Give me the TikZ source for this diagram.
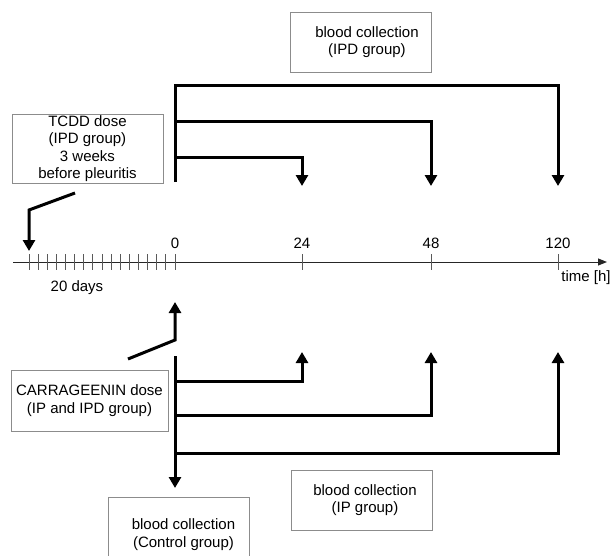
\documentclass[tikz,border=0pt]{standalone}
\usepackage{fontspec}
\setmainfont{Liberation Sans}
\usetikzlibrary{arrows.meta}
\begin{document}
\begin{tikzpicture}[x=1pt,y=-1pt,
  txt/.style={font=\fontsize{15}{17.5}\selectfont, inner sep=0pt},
  box/.style={txt, draw=black!45, line width=0.8pt, align=center},
  conn/.style={line width=3pt, line join=miter},
  arr/.style={conn, -{Triangle[width=12pt,length=11pt]}},
  axis/.style={line width=1pt, draw=black!85},
  tick/.style={line width=1pt, draw=black!65}]
\useasboundingbox (0,0) rectangle (611,555);
\clip (0,0) rectangle (611,555);
\renewcommand{\arraystretch}{1}

% boxes
\node[box, minimum width=151pt, minimum height=69pt] (tcdd) at (87.5,148.5)
  {TCDD dose\\(IPD group)\\3 weeks\\before pleuritis};
\node[box, minimum width=141pt, minimum height=60pt] (ipd) at (361,42)
  {\hspace*{12pt}blood collection\\\hspace*{12pt}(IPD group)};
\node[box, minimum width=157pt, minimum height=61pt] (carr) at (89.5,400.5)
  {CARRAGEENIN dose\\(IP and IPD group)};
\node[box, minimum width=141pt, minimum height=60pt] (ip) at (361.5,500)
  {\hspace*{7pt}blood collection\\\hspace*{7pt}(IP group)};
\node[box, minimum width=141pt, minimum height=76pt] (ctrl) at (178.5,535)
  {\raisebox{11pt}{\begin{tabular}{@{}c@{}}\hspace*{10pt}blood collection\\\hspace*{10pt}(Control group)\end{tabular}}};

% time axis
\coordinate (axstart) at (13,262);
\coordinate (axend) at (607,262);
\draw[axis, -{Triangle[width=7pt,length=9pt]}] (axstart) -- (axend);
\foreach \i in {0,...,16} {
  \draw[tick] ({29+\i*9.125},254) -- ({29+\i*9.125},270);
}
\foreach \x/\l in {302/24,431/48,558/120} {
  \draw[tick] (\x,254) -- (\x,270);
}
\node[txt] (l0) at (175,243) {0};
\node[txt] (l24) at (302,243) {24};
\node[txt] (l48) at (431,243) {48};
\node[txt] (l120) at (558,243) {120};
\node[txt] (ltime) at (586,278) {time [h]};
\node[txt] (ldays) at (77,288) {20 days};

% TCDD dose arrow
\coordinate (tc1) at (75,193);
\coordinate (tc2) at (29,210);
\coordinate (tc3) at (29,251);
\draw[arr] (tc1) -- (tc2) -- (tc3);

% upper blood collection (IPD)
\coordinate (ubot) at (175,182);
\coordinate (u120) at (175,85);
\coordinate (u48) at (175,121);
\coordinate (u24) at (175,157);
\coordinate (t120) at (558,186);
\coordinate (t48) at (431,186);
\coordinate (t24) at (302,186);
\draw[arr] (ubot) -- (u120) -| (t120);
\draw[arr] (u48) -| (t48);
\draw[arr] (u24) -| (t24);

% carrageenin arrow
\coordinate (cs1) at (128,359);
\coordinate (cs2) at (175,340);
\coordinate (cs3) at (175,302);
\draw[arr] (cs1) -- (cs2) -- (cs3);

% lower blood collection
\coordinate (ltop) at (175,356);
\coordinate (lctrl) at (175,488);
\coordinate (l24b) at (175,381);
\coordinate (l48b) at (175,415);
\coordinate (l120b) at (175,453);
\coordinate (b24) at (302,352);
\coordinate (b48) at (431,352);
\coordinate (b120) at (558,352);
\draw[arr] (ltop) -- (lctrl);
\draw[arr] (l24b) -| (b24);
\draw[arr] (l48b) -| (b48);
\draw[arr] (l120b) -| (b120);
\end{tikzpicture}
\end{document}
